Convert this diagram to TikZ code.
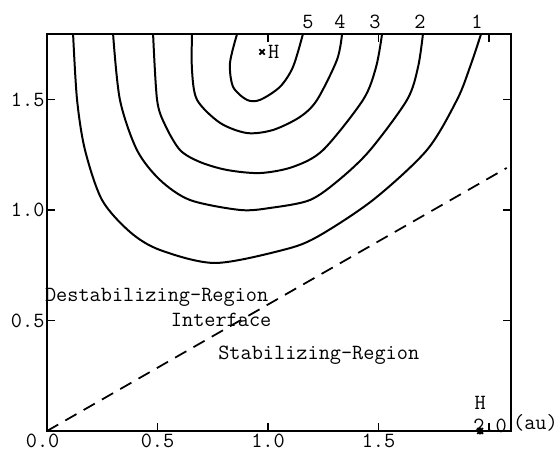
\documentclass[tikz,border=0pt]{standalone}
\usepackage{fontspec}
\usetikzlibrary{positioning}

\begin{document}
\begin{tikzpicture}[x=6.63cm, y=6.63cm,
        font=\ttfamily\fontsize{18.5}{20}\selectfont,
        axisline/.style={line width=1.1pt},
        contour/.style={line width=1.7pt},
        interface/.style={line width=1.5pt, dash pattern=on 11pt off 7pt},
        ticklab/.style={inner sep=2pt},
        levellab/.style={inner sep=1pt},
        marker/.style={line width=1.6pt}]
      \useasboundingbox (-0.2127,-0.1086) rectangle (2.3167,1.950);
      % frame and ticks
      \coordinate (O) at (0,0);
      \coordinate (TR) at (2.1,1.796);
      \draw[axisline] (O) rectangle (TR);
      \foreach \t in {0.5,1.0,1.5,2.0}
        \draw[axisline] (\t,0) -- ++(0,0.035);
      \foreach \t in {1.0,1.5,2.0}
        \draw[axisline] (\t,1.796) -- ++(0,-0.035);
      \foreach \t in {0.5,1.0,1.5} {
        \draw[axisline] (0,\t) -- ++(0.035,0);
        \draw[axisline] (2.1,\t) -- ++(-0.035,0);
      }
      % tick labels
      \node[ticklab, anchor=north] (xa) at (-0.02,0) {0.0};
      \foreach \t/\n in {0.5/b,1.0/c,1.5/d}
        \node[ticklab, anchor=north] (x\n) at (\t,0) {\t};
      \node[inner sep=0pt] (xe) at (2.005,0.022) {2.0};
      \node[inner sep=0pt, anchor=west] (unit) at (2.108,0.036) {(au)};
      \foreach \t/\n in {0.5/a,1.0/b,1.5/c}
        \node[ticklab, anchor=east] (y\n) at (0,\t) {\t};
      % level curves
      \draw[contour] plot[smooth] coordinates {
        (0.118,1.796) (0.136,1.498) (0.172,1.271) (0.249,1.045)
        (0.376,0.900) (0.511,0.819) (0.760,0.760) (1.068,0.819)
        (1.222,0.878) (1.475,1.045) (1.719,1.271) (1.855,1.498)
        (1.914,1.647) (1.964,1.796)};
      \draw[contour] plot[smooth] coordinates {
        (0.299,1.796) (0.330,1.498) (0.407,1.271) (0.511,1.136)
        (0.647,1.045) (0.873,1.000) (1.009,1.009) (1.190,1.045)
        (1.326,1.140) (1.462,1.271) (1.629,1.498) (1.679,1.647)
        (1.701,1.796)};
      \draw[contour] plot[smooth] coordinates {
        (0.480,1.796) (0.498,1.498) (0.534,1.385) (0.602,1.271)
        (0.692,1.217) (0.814,1.181) (0.964,1.167) (1.113,1.195)
        (1.249,1.271) (1.430,1.498) (1.489,1.647) (1.516,1.796)};
      \draw[contour] plot[smooth] coordinates {
        (0.656,1.796) (0.656,1.633) (0.679,1.498) (0.783,1.394)
        (0.905,1.348) (1.023,1.362) (1.145,1.421) (1.222,1.498)
        (1.312,1.679) (1.335,1.796)};
      \draw[contour] plot[smooth] coordinates {
        (0.860,1.796) (0.828,1.665) (0.842,1.557) (0.905,1.498)
        (0.964,1.498) (1.054,1.557) (1.113,1.647) (1.158,1.796)};
      \foreach \x/\n in {1.946/1,1.688/2,1.484/3,1.326/4,1.181/5}
        \node[levellab] (lev\n) at (\x,1.851) {\n};
      % interface line
      \coordinate (iend) at (2.08,1.19);
      \draw[interface] (O) -- (iend);
      % hydrogen positions
      \coordinate (hpk) at (0.973,1.715);
      \draw[marker] (hpk) +(-0.012,-0.012) -- +(0.012,0.012)
                    (hpk) +(-0.012,0.012) -- +(0.012,-0.012);
      \node[inner sep=0pt, right=5pt of hpk] (hpklab) {H};
      \coordinate (hax) at (1.96,0);
      \draw[marker] (hax) +(-0.013,-0.013) -- +(0.013,0.013)
                    (hax) +(-0.013,0.013) -- +(0.013,-0.013)
                    (hax) +(0,-0.016) -- +(0,0.016);
      \node[inner sep=0pt] (haxlab) at (1.96,0.125) {H};
      % region labels
      \node[anchor=west, inner sep=0pt] (destab) at (-0.01,0.606) {Destabilizing-Region};
      \node[inner sep=0pt] (iface) at (0.788,0.502) {Interface};
      \node[anchor=west, inner sep=0pt] (stab) at (0.774,0.344) {Stabilizing-Region};
    \end{tikzpicture}
\end{document}
